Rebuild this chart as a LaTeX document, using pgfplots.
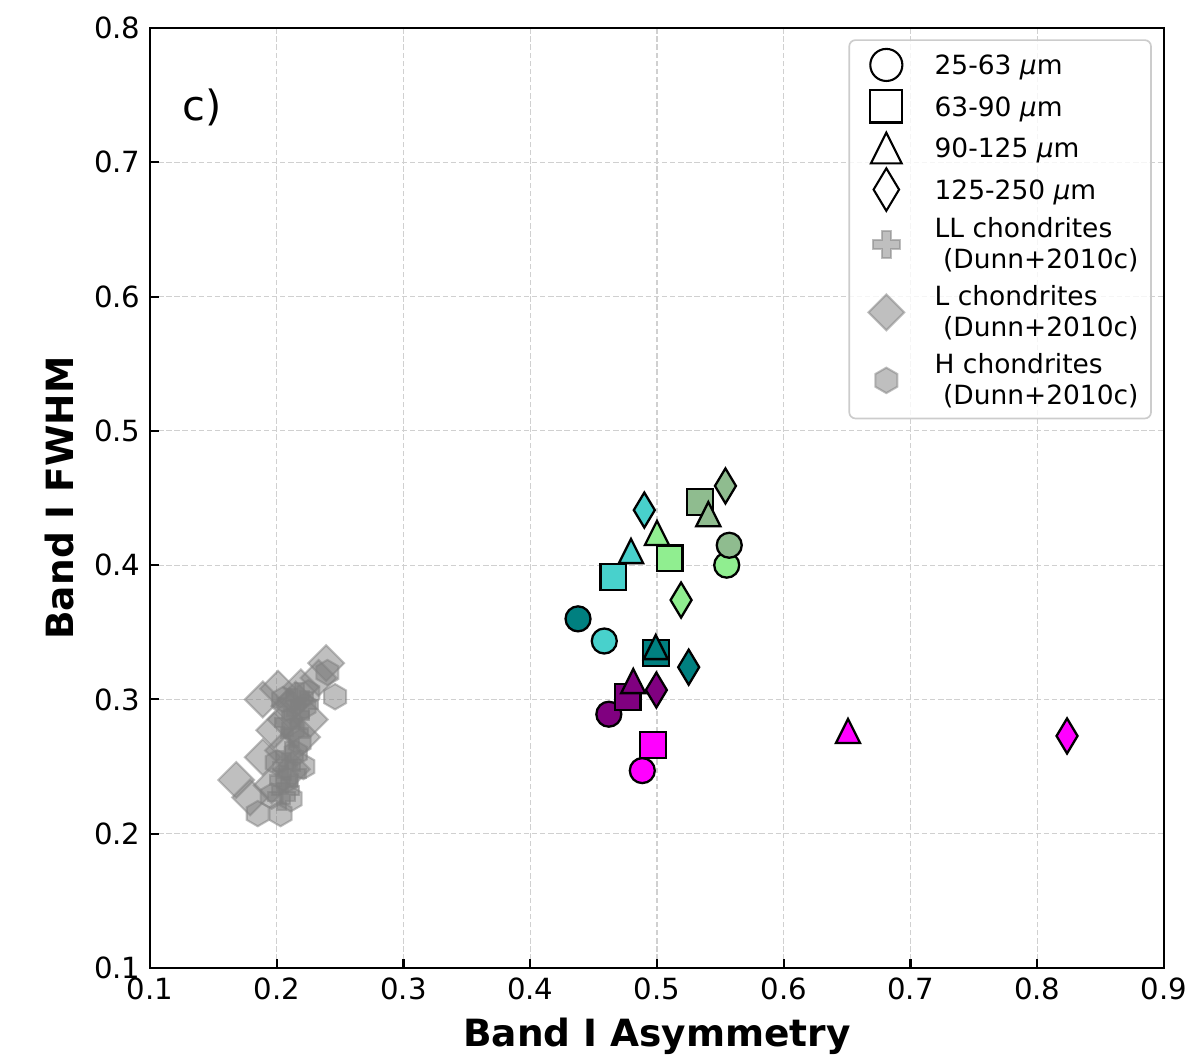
\documentclass[border=0pt]{standalone}
\usepackage{pgfplots}
\pgfplotsset{compat=1.18}
\usepackage{fontspec}
\setmainfont{DejaVu Sans}
\definecolor{mteal}{HTML}{008080}
\definecolor{mturq}{HTML}{48D1CC}
\definecolor{mlgreen}{HTML}{90EE90}
\definecolor{mdsg}{HTML}{8FBC8F}
\definecolor{mpurple}{HTML}{800080}
\definecolor{mmagenta}{HTML}{FF00FF}
\definecolor{mgray}{HTML}{808080}
\definecolor{lgframe}{HTML}{CCCCCC}
\definecolor{gridc}{HTML}{D0D0D0}

\pgfdeclareplotmark{mtri}{%
  \pgfpathmoveto{\pgfqpoint{0pt}{\pgfplotmarksize}}%
  \pgfpathlineto{\pgfqpoint{-\pgfplotmarksize}{-\pgfplotmarksize}}%
  \pgfpathlineto{\pgfqpoint{\pgfplotmarksize}{-\pgfplotmarksize}}%
  \pgfpathclose\pgfusepathqfillstroke}
\pgfdeclareplotmark{mthin}{%
  \pgfpathmoveto{\pgfqpoint{0pt}{\pgfplotmarksize}}%
  \pgfpathlineto{\pgfqpoint{0.6\pgfplotmarksize}{0pt}}%
  \pgfpathlineto{\pgfqpoint{0pt}{-\pgfplotmarksize}}%
  \pgfpathlineto{\pgfqpoint{-0.6\pgfplotmarksize}{0pt}}%
  \pgfpathclose\pgfusepathqfillstroke}
\pgfdeclareplotmark{mdiam}{%
  \pgfpathmoveto{\pgfqpoint{0pt}{\pgfplotmarksize}}%
  \pgfpathlineto{\pgfqpoint{\pgfplotmarksize}{0pt}}%
  \pgfpathlineto{\pgfqpoint{0pt}{-\pgfplotmarksize}}%
  \pgfpathlineto{\pgfqpoint{-\pgfplotmarksize}{0pt}}%
  \pgfpathclose\pgfusepathqfillstroke}
\pgfdeclareplotmark{mhex}{%
  \pgfpathmoveto{\pgfpointpolar{90}{\pgfplotmarksize}}%
  \pgfpathlineto{\pgfpointpolar{150}{\pgfplotmarksize}}%
  \pgfpathlineto{\pgfpointpolar{210}{\pgfplotmarksize}}%
  \pgfpathlineto{\pgfpointpolar{270}{\pgfplotmarksize}}%
  \pgfpathlineto{\pgfpointpolar{330}{\pgfplotmarksize}}%
  \pgfpathlineto{\pgfpointpolar{30}{\pgfplotmarksize}}%
  \pgfpathclose\pgfusepathqfillstroke}
\pgfdeclareplotmark{mplus}{%
  \pgfpathmoveto{\pgfqpoint{-.3333\pgfplotmarksize}{-\pgfplotmarksize}}%
  \pgfpathlineto{\pgfqpoint{.3333\pgfplotmarksize}{-\pgfplotmarksize}}%
  \pgfpathlineto{\pgfqpoint{.3333\pgfplotmarksize}{-.3333\pgfplotmarksize}}%
  \pgfpathlineto{\pgfqpoint{\pgfplotmarksize}{-.3333\pgfplotmarksize}}%
  \pgfpathlineto{\pgfqpoint{\pgfplotmarksize}{.3333\pgfplotmarksize}}%
  \pgfpathlineto{\pgfqpoint{.3333\pgfplotmarksize}{.3333\pgfplotmarksize}}%
  \pgfpathlineto{\pgfqpoint{.3333\pgfplotmarksize}{\pgfplotmarksize}}%
  \pgfpathlineto{\pgfqpoint{-.3333\pgfplotmarksize}{\pgfplotmarksize}}%
  \pgfpathlineto{\pgfqpoint{-.3333\pgfplotmarksize}{.3333\pgfplotmarksize}}%
  \pgfpathlineto{\pgfqpoint{-\pgfplotmarksize}{.3333\pgfplotmarksize}}%
  \pgfpathlineto{\pgfqpoint{-\pgfplotmarksize}{-.3333\pgfplotmarksize}}%
  \pgfpathlineto{\pgfqpoint{-.3333\pgfplotmarksize}{-.3333\pgfplotmarksize}}%
  \pgfpathclose\pgfusepathqfillstroke}

% one coloured point: marker, size, colour, coordinates
\newcommand\cpt[4]{\addplot[forget plot, only marks, mark=#1, mark size=#2,
  mark options={draw=black, fill=#3, line width=1.1pt, solid, sharp corners, opacity=1}] coordinates {#4};}

\pgfplotstableread{
x y
0.168 0.240
0.179 0.227
0.189 0.257
0.198 0.277
0.189 0.300
0.201 0.308
0.219 0.309
0.226 0.285
0.220 0.272
0.239 0.327
0.233 0.316
0.210 0.295
0.205 0.262
0.212 0.248
0.196 0.236
0.215 0.300
0.207 0.285
}\Lchond
\pgfplotstableread{
x y
0.246 0.302
0.240 0.320
0.185 0.215
0.203 0.215
0.211 0.226
0.221 0.250
0.200 0.253
0.218 0.268
0.222 0.295
0.208 0.240
0.196 0.228
0.213 0.278
0.205 0.300
0.225 0.305
0.215 0.260
}\Hchond
\pgfplotstableread{
x y
0.205 0.240
0.208 0.250
0.210 0.258
0.207 0.232
0.212 0.245
0.215 0.288
0.212 0.298
0.218 0.302
0.209 0.283
0.214 0.275
0.204 0.228
0.222 0.296
}\LLchond

\begin{document}
\begin{tikzpicture}
\path[use as bounding box] (-72pt,-43.2pt) rectangle (500.16pt,464.64pt);
\begin{axis}[
  at={(0pt,0pt)}, anchor=south west,
  width=486.72pt, height=451.2pt, scale only axis,
  xmin=0.1, xmax=0.9, ymin=0.1, ymax=0.8,
  xtick={0.1,0.2,0.3,0.4,0.5,0.6,0.7,0.8,0.9},
  ytick={0.1,0.2,0.3,0.4,0.5,0.6,0.7,0.8},
  /pgf/number format/fixed, /pgf/number format/fixed zerofill,
  /pgf/number format/precision=1,
  /pgf/number format/assume math mode=true,
  tick pos=left, tick align=inside,
  major tick length=4.5pt,
  every tick/.style={black, line width=1pt},
  axis line style={line width=1.3pt},
  ticklabel style={font=\fontsize{14}{16}\selectfont},
  xticklabel style={yshift=-1pt},
  yticklabel style={xshift=-1pt},
  grid=major,
  major grid style={gridc, line width=0.5pt, dash pattern=on 2.6pt off 1.3pt},
  xlabel={Band I Asymmetry}, ylabel={Band I FWHM},
  xlabel style={at={(axis description cs:0.5,-0.0840)}, anchor=base, font=\fontsize{18}{21}\selectfont\bfseries},
  ylabel style={at={(axis description cs:-0.0750,0.5)}, anchor=base, rotate=0, font=\fontsize{18}{21}\selectfont\bfseries},
  legend image code/.code={\path[draw=none] (0pt,0pt) (27.6pt,0pt);
    \draw[overlay,#1] plot coordinates {(13.8pt,0pt)};},
  legend style={at={(axis description cs:0.988,0.988)}, anchor=north east,
    draw=lgframe, line width=0.8pt, rounded corners=3pt, fill=white, fill opacity=0.8,
    draw opacity=1, text opacity=1,
    font=\fontsize{12.7}{14.6}\selectfont,
    inner xsep=4pt, inner ysep=3.4pt, row sep=2.9pt, column sep=7.4pt,
    cells={anchor=west}, nodes={align=left, inner sep=2pt}},
]
% Dunn+2010c chondrites
\addplot[forget plot, only marks, mark=mdiam, mark size=8.6pt,
  mark options={draw=mgray, fill=mgray, opacity=0.5, line width=1pt, solid}] table {\Lchond};
\addplot[forget plot, only marks, mark=mhex, mark size=6.1pt,
  mark options={draw=mgray, fill=mgray, opacity=0.5, line width=1pt, solid}] table {\Hchond};
\addplot[forget plot, only marks, mark=mplus, mark size=6.5pt,
  mark options={draw=mgray, fill=mgray, opacity=0.5, line width=1pt, solid}] table {\LLchond};
% 25-63 um circles
\cpt{*}{6.0pt}{mteal}{(0.4377,0.360)}
\cpt{*}{6.0pt}{mturq}{(0.4584,0.3435)}
\cpt{*}{6.0pt}{mlgreen}{(0.555,0.400)}
\cpt{*}{6.0pt}{mdsg}{(0.557,0.4148)}
\cpt{*}{6.0pt}{mpurple}{(0.462,0.289)}
\cpt{*}{6.0pt}{mmagenta}{(0.4884,0.247)}
% 63-90 um squares
\cpt{square*}{6.2pt}{mteal}{(0.499,0.3346)}
\cpt{square*}{6.2pt}{mturq}{(0.4655,0.391)}
\cpt{square*}{6.2pt}{mdsg}{(0.5339,0.447)}
\cpt{square*}{6.2pt}{mpurple}{(0.4769,0.302)}
\cpt{square*}{6.2pt}{mmagenta}{(0.497,0.266)}
% 90-125 um triangles
\cpt{mtri}{5.8pt}{mteal}{(0.499,0.339)}
\cpt{mtri}{5.8pt}{mturq}{(0.4795,0.4105)}
\cpt{mtri}{5.8pt}{mlgreen}{(0.500,0.424)}
\cpt{square*}{6.2pt}{mlgreen}{(0.510,0.405)}
\cpt{mtri}{5.8pt}{mdsg}{(0.5405,0.438)}
\cpt{mtri}{5.8pt}{mpurple}{(0.4813,0.3137)}
\cpt{mtri}{5.8pt}{mmagenta}{(0.6507,0.2765)}
% 125-250 um thin diamonds
\cpt{mthin}{8.4pt}{mteal}{(0.525,0.324)}
\cpt{mthin}{8.4pt}{mturq}{(0.490,0.441)}
\cpt{mthin}{8.4pt}{mlgreen}{(0.519,0.374)}
\cpt{mthin}{8.4pt}{mdsg}{(0.554,0.459)}
\cpt{mthin}{8.4pt}{mpurple}{(0.4995,0.307)}
\cpt{mthin}{8.4pt}{mmagenta}{(0.8235,0.2728)}

\node[anchor=base west, inner sep=0pt, font=\fontsize{20}{24}\selectfont] at (axis description cs:0.0316,0.902) {c)};

% legend
\addlegendimage{only marks, mark=*, mark size=7.7pt, mark options={draw=black, fill=white, fill opacity=1, line width=1pt, solid, sharp corners}}
\addlegendentry[text height=11.1pt, text depth=1.94pt]{25-63 \textit{μ}m}
\addlegendimage{only marks, mark=square*, mark size=7.7pt, mark options={draw=black, fill=white, fill opacity=1, line width=1pt, solid, sharp corners}}
\addlegendentry[text height=11.1pt, text depth=1.94pt]{63-90 \textit{μ}m}
\addlegendimage{only marks, mark=mtri, mark size=7.4pt, mark options={draw=black, fill=white, fill opacity=1, line width=1pt, solid, sharp corners}}
\addlegendentry[text height=11.1pt, text depth=1.94pt]{90-125 \textit{μ}m}
\addlegendimage{only marks, mark=mthin, mark size=10.2pt, mark options={draw=black, fill=white, fill opacity=1, line width=1pt, solid, sharp corners}}
\addlegendentry[text height=11.1pt, text depth=1.94pt]{125-250 \textit{μ}m}
\addlegendimage{only marks, mark=mplus, mark size=6.5pt, mark options={draw=mgray, fill=mgray, opacity=0.5, line width=1pt, solid, sharp corners}}
\addlegendentry{LL chondrites\\\hspace*{0.32em}(Dunn+2010c)}
\addlegendimage{only marks, mark=mdiam, mark size=8.6pt, mark options={draw=mgray, fill=mgray, opacity=0.5, line width=1pt, solid, sharp corners}}
\addlegendentry{L chondrites\\\hspace*{0.32em}(Dunn+2010c)}
\addlegendimage{only marks, mark=mhex, mark size=6.1pt, mark options={draw=mgray, fill=mgray, opacity=0.5, line width=1pt, solid, sharp corners}}
\addlegendentry{H chondrites\\\hspace*{0.32em}(Dunn+2010c)}
\end{axis}
\end{tikzpicture}
\end{document}
